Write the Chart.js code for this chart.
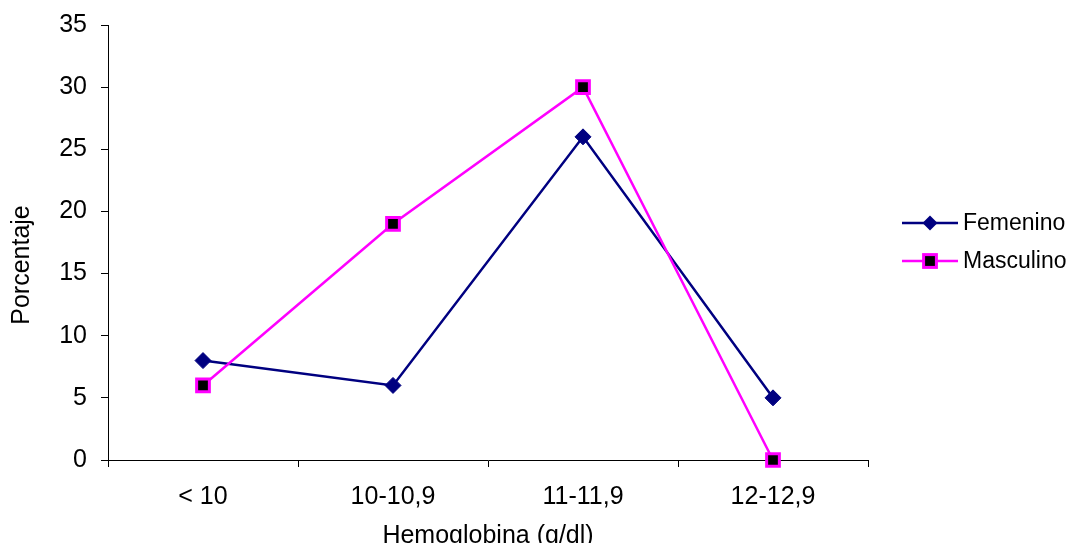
<!DOCTYPE html>
<html>
<head>
<meta charset="utf-8">
<script src="https://cdn.jsdelivr.net/npm/chart.js@4/dist/chart.umd.min.js"></script>
<style>
  html, body { margin: 0; padding: 0; background: #fff; }
  #wrap { width: 1073px; height: 543px; }
</style>
</head>
<body>
<div id="wrap"><canvas id="c" width="1073" height="543"></canvas></div>
<script>
const categories = ['< 10', '10-10,9', '11-11,9', '12-12,9'];
const femenino = [8, 6, 26, 5];
const masculino = [6, 19, 30, 0];
const yTicks = [0, 5, 10, 15, 20, 25, 30, 35];
const xTitle = 'Hemoglobina (g/dl)';
const yTitle = 'Porcentaje';
const seriesNames = ['Femenino', 'Masculino'];

const FONT = '"Liberation Sans", Arial, sans-serif';
const FS = 25;
const LFS = 23;

const yTitlePlugin = {
  id: 'yTitle',
  afterDraw(chart) {
    const ctx = chart.ctx;
    ctx.save();
    ctx.translate(22, 265);
    ctx.rotate(-Math.PI / 2);
    ctx.font = FS + 'px ' + FONT;
    ctx.fillStyle = '#000';
    ctx.textAlign = 'center';
    ctx.textBaseline = 'middle';
    ctx.fillText(yTitle, 0, 0);
    ctx.restore();
  }
};

const legendPlugin = {
  id: 'sideLegend',
  afterDraw(chart) {
    const ctx = chart.ctx;
    ctx.save();
    chart.data.datasets.forEach((ds, i) => {
      const y = 223 + i * 38;
      ctx.strokeStyle = ds.borderColor;
      ctx.lineWidth = 2.5;
      ctx.beginPath();
      ctx.moveTo(902, y);
      ctx.lineTo(958, y);
      ctx.stroke();
      const x = 930;
      if (ds.pointStyle === 'rectRot') {
        const r = 7.5;
        ctx.fillStyle = ds.pointBackgroundColor;
        ctx.beginPath();
        ctx.moveTo(x - r, y); ctx.lineTo(x, y - r); ctx.lineTo(x + r, y); ctx.lineTo(x, y + r);
        ctx.closePath();
        ctx.fill();
      } else {
        const h = 6.4;
        ctx.fillStyle = ds.pointBackgroundColor;
        ctx.fillRect(x - h, y - h, 2 * h, 2 * h);
        ctx.lineWidth = 3;
        ctx.strokeStyle = ds.pointBorderColor;
        ctx.strokeRect(x - h, y - h, 2 * h, 2 * h);
      }
      ctx.font = LFS + 'px ' + FONT;
      ctx.fillStyle = '#000';
      ctx.textAlign = 'left';
      ctx.textBaseline = 'middle';
      ctx.fillText(seriesNames[i], 963, y + 1);
    });
    ctx.restore();
  }
};

new Chart(document.getElementById('c'), {
  type: 'line',
  data: {
    labels: categories,
    datasets: [
      {
        label: seriesNames[0],
        data: femenino,
        borderColor: '#000080',
        borderWidth: 2.5,
        pointStyle: 'rectRot',
        pointRadius: 8,
        pointBackgroundColor: '#000080',
        pointBorderColor: '#000080',
        pointBorderWidth: 1,
        tension: 0,
        clip: false,
        order: 1
      },
      {
        label: seriesNames[1],
        data: masculino,
        borderColor: '#FF00FF',
        borderWidth: 2.5,
        pointStyle: 'rect',
        pointRadius: 9,
        pointBackgroundColor: '#000000',
        pointBorderColor: '#FF00FF',
        pointBorderWidth: 3,
        tension: 0,
        clip: false,
        order: 0
      }
    ]
  },
  options: {
    responsive: false,
    animation: false,
    devicePixelRatio: 1,
    layout: { padding: { left: 0, top: 25, right: 205, bottom: 0 } },
    plugins: {
      legend: { display: false },
      tooltip: { enabled: false }
    },
    scales: {
      x: {
        type: 'category',
        offset: true,
        afterFit(s) { s.height = 83; s.paddingLeft = 0; s.paddingRight = 0; },
        grid: {
          offset: true,
          drawOnChartArea: false,
          drawTicks: true,
          tickLength: 7,
          color: '#000',
          lineWidth: 1
        },
        border: { display: true, color: '#000', width: 1 },
        ticks: {
          color: '#000',
          font: { family: FONT, size: FS },
          padding: 15,
          maxRotation: 0,
          autoSkip: false
        },
        title: {
          display: true,
          text: xTitle,
          color: '#000',
          font: { family: FONT, size: FS },
          padding: { top: 0, bottom: -8 }
        }
      },
      y: {
        min: 0,
        max: 35,
        afterFit(s) { s.width = 108; s.paddingTop = 0; s.paddingBottom = 0; },
        afterBuildTicks(s) { s.ticks = yTicks.map(v => ({ value: v })); },
        grid: {
          drawOnChartArea: false,
          drawTicks: true,
          tickLength: 7,
          color: '#000',
          lineWidth: 1
        },
        border: { display: true, color: '#000', width: 1 },
        ticks: {
          color: '#000',
          font: { family: FONT, size: FS },
          padding: 14
        }
      }
    }
  },
  plugins: [yTitlePlugin, legendPlugin]
});
</script>
</body>
</html>
